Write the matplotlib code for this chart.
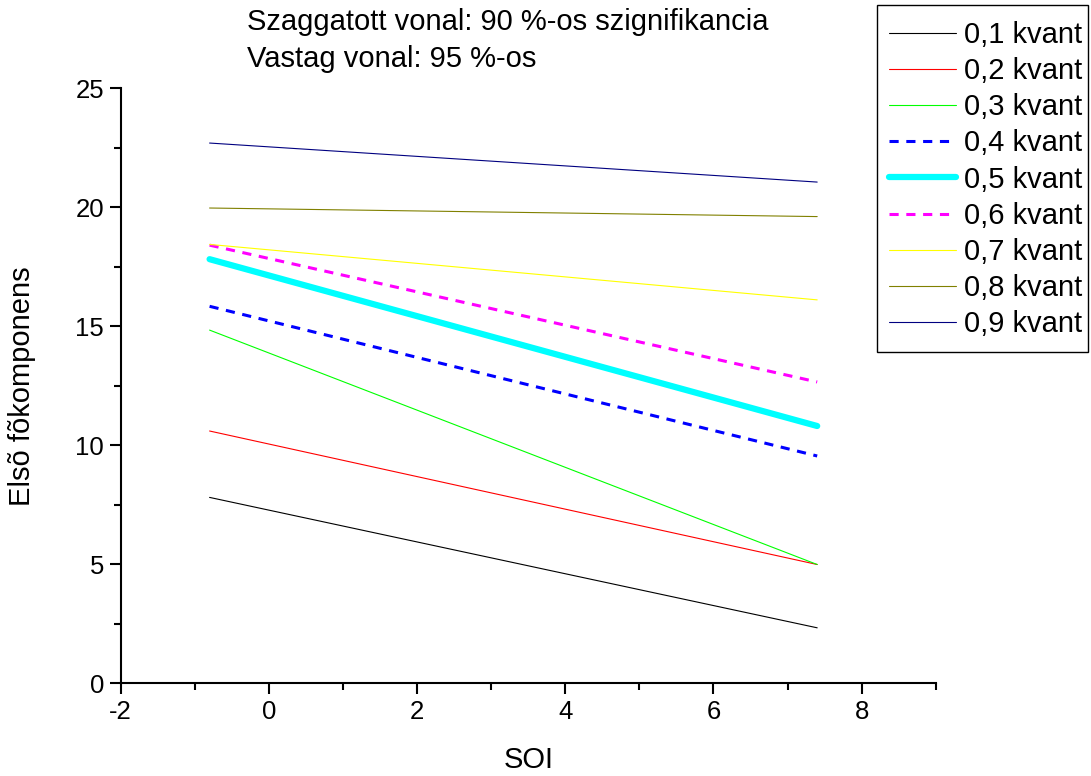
import matplotlib.pyplot as plt
from matplotlib.patches import Rectangle
from matplotlib.ticker import MultipleLocator

plt.rcParams['font.family'] = ['Liberation Sans', 'DejaVu Sans']
plt.rcParams['axes.unicode_minus'] = False

# SOI range of the fitted quantile lines
soi = [-0.8, 7.4]

labels = ['0,1 kvant', '0,2 kvant', '0,3 kvant', '0,4 kvant', '0,5 kvant',
          '0,6 kvant', '0,7 kvant', '0,8 kvant', '0,9 kvant']
start_vals = [7.81, 10.60, 14.84, 15.84, 17.82, 18.41, 18.44, 19.97, 22.70]
end_vals = [2.33, 4.99, 4.99, 9.55, 10.81, 12.66, 16.11, 19.61, 21.06]

colors = ['black', 'red', '#00FF00', 'blue', 'cyan', 'magenta', 'yellow', '#808000', '#000080']
widths = [0.8, 0.8, 0.8, 2.2, 4.5, 2.2, 0.8, 0.8, 0.8]
styles = ['-', '-', '-', (0, (3, 2.5)), '-', (0, (3, 2.5)), '-', '-', '-']

fig = plt.figure(figsize=(10.91, 7.76), dpi=100)
ax = fig.add_axes([0.1106, 0.1195, 0.7471, 0.7667])

for i in range(len(labels)):
    ax.plot(soi, [start_vals[i], end_vals[i]], color=colors[i], lw=widths[i],
            ls=styles[i], label=labels[i], solid_capstyle='round')

ax.set_xlim(-2, 9)
ax.set_ylim(0, 25)
ax.xaxis.set_major_locator(MultipleLocator(2))
ax.xaxis.set_minor_locator(MultipleLocator(1))
ax.yaxis.set_major_locator(MultipleLocator(5))
ax.yaxis.set_minor_locator(MultipleLocator(2.5))
ax.spines['top'].set_visible(False)
ax.spines['right'].set_visible(False)
for s in ['left', 'bottom']:
    ax.spines[s].set_linewidth(1.5)
ax.tick_params(which='major', direction='out', length=8, width=1.5, labelsize=18.5, pad=4)
ax.tick_params(which='minor', direction='out', length=5, width=1.5)

ax.set_xlabel('SOI', fontsize=21, labelpad=16)
ax.set_ylabel('Elsõ fõkomponens', fontsize=21, labelpad=28)

fig.text(0.2265, 0.972, 'Szaggatott vonal: 90 %-os szignifikancia', fontsize=21, va='center')
fig.text(0.2265, 0.924, 'Vastag vonal: 95 %-os', fontsize=21, va='center')

# legend without its own frame; the box is drawn separately so it can be taller than wide padding allows
fig.legend(loc='upper left', bbox_to_anchor=(0.8148, 0.973), fontsize=21,
           frameon=False, handlelength=2.3, handletextpad=0.27,
           labelspacing=0.28, borderpad=0, borderaxespad=0)
fig.patches.append(Rectangle((0.8038, 0.5464), 0.1934, 0.4472, transform=fig.transFigure,
                             fill=False, edgecolor='black', lw=1.0))

fig.savefig('out.png', dpi=100)
